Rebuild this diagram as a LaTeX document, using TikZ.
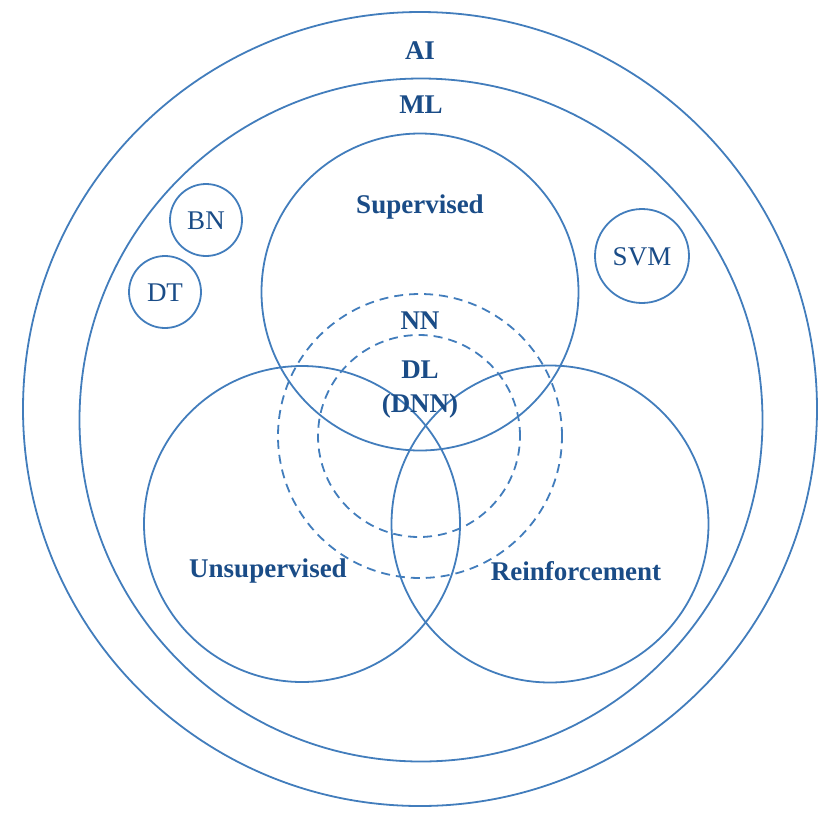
\documentclass[tikz,border=0pt]{standalone}
\usepackage{fontspec}
\setmainfont{Liberation Serif}
\definecolor{ring}{RGB}{66,125,188}
\definecolor{ink}{RGB}{26,76,135}
\begin{document}
\begin{tikzpicture}[x=1pt,y=-1pt,
  ring/.style={draw=ring,line width=1.8pt,circle,inner sep=0pt},
  dashring/.style={ring,dash pattern=on 9pt off 6pt},
  bigl/.style={text=ink,font=\fontsize{27}{30}\selectfont\bfseries},
  smalll/.style={text=ink,font=\fontsize{27}{30}\selectfont}]
\useasboundingbox (0,0) rectangle (820,815);
\node[ring,minimum size=794pt] (ai) at (420,409) {};
\node[ring,minimum size=683pt] (ml) at (421,420) {};
\node[ring,minimum size=317pt] (sup) at (420,292) {};
\node[ring,minimum size=316pt] (uns) at (302,524) {};
\node[ring,minimum size=317pt] (rei) at (550,524) {};
\node[dashring,minimum size=284pt] (nn) at (420,436) {};
\node[dashring,minimum size=202pt] (dl) at (419,436) {};
\node[ring,minimum size=72pt] (bn) at (206,220) {};
\node[ring,minimum size=72pt] (dt) at (165,292) {};
\node[ring,minimum size=94pt] (svm) at (642,256) {};
\node[bigl] (ait) at (420,51) {AI};
\node[bigl] (mlt) at (421,105) {ML};
\node[bigl] (supt) at (420,207) {Supervised};
\node[bigl] (nnt) at (420,321) {NN};
\node[bigl,align=center] (dlt) at (420,390) {DL\\[4pt](DNN)};
\node[bigl] (unst) at (268,571) {Unsupervised};
\node[bigl] (reit) at (576,571) {Reinforcement};
\node[smalll] (bnt) at (206,221) {BN};
\node[smalll] (dtt) at (165,293) {DT};
\node[smalll] (svmt) at (642,257) {SVM};
\end{tikzpicture}
\end{document}
